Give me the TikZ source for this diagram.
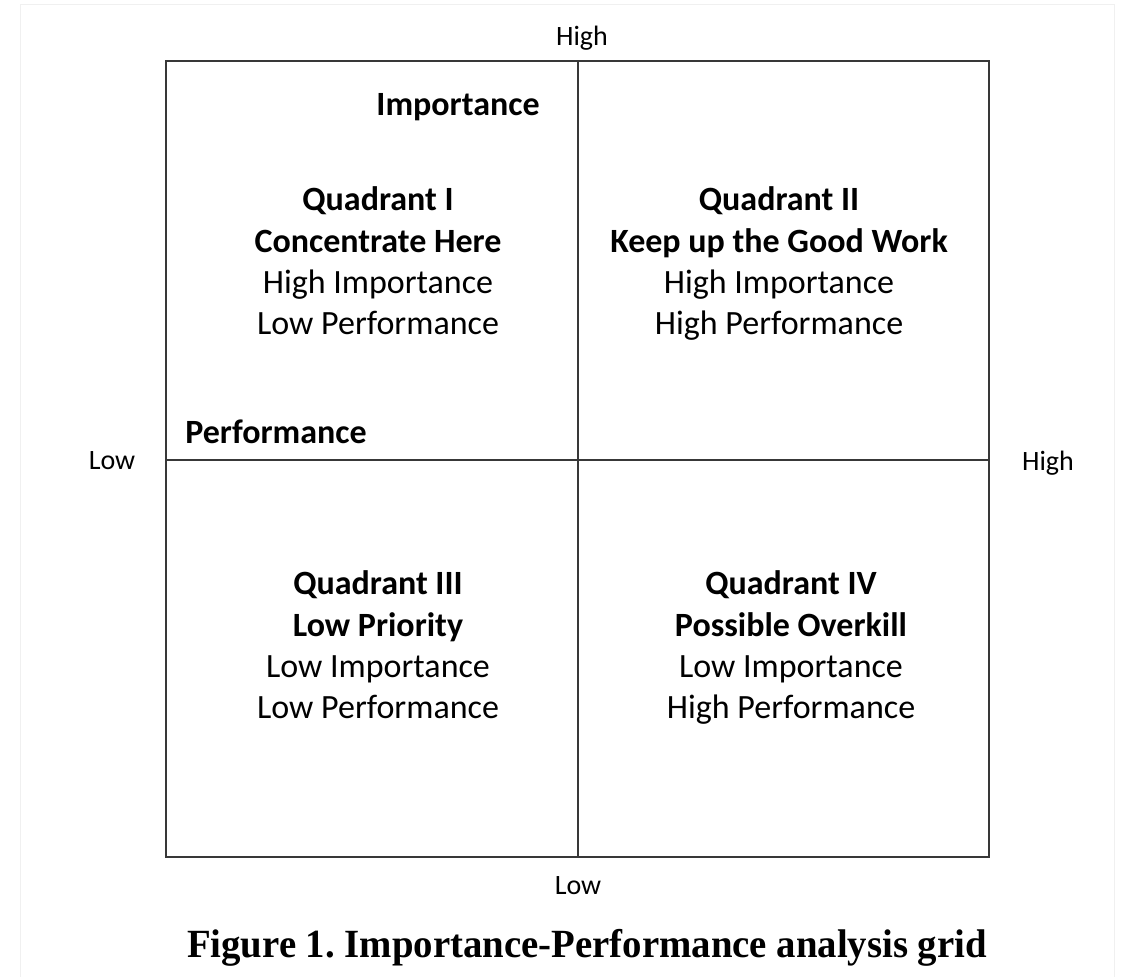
\documentclass[tikz,border=0pt]{standalone}
\usepackage{fontspec}
\setmainfont{Carlito}
\newfontfamily\capfont{Liberation Serif}
\begin{document}
\begin{tikzpicture}[x=1pt,y=-1pt,
  gridline/.style={draw=black!78,line width=1.8pt},
  quadtext/.style={anchor=base,inner sep=0pt,font=\fontsize{34}{41}\selectfont},
  quadhead/.style={quadtext,font=\fontsize{34}{41}\selectfont\bfseries},
  axislabel/.style={anchor=base,inner sep=0pt,font=\fontsize{28}{34}\selectfont}]
\useasboundingbox (0,0) rectangle (1127,977);
% faint page frame
\draw[black!6,line width=1pt] (20,995) -- (20,4) -- (1114,4) -- (1114,995);
% grid frame and dividers
\coordinate (tl) at (166,61);
\coordinate (br) at (989,857);
\coordinate (top) at (578,61);
\coordinate (bot) at (578,857);
\coordinate (lft) at (166,460);
\coordinate (rgt) at (989,460);
\draw[gridline] (tl) rectangle (br);
\draw[gridline] (top) -- (bot);
\draw[gridline] (lft) -- (rgt);
% axis labels
\node[axislabel] (ahigh) at (582,45) {High};
\node[axislabel] (alow) at (578,894) {Low};
\node[axislabel] (llow) at (112,469) {Low};
\node[axislabel] (rhigh) at (1048,470) {High};
\node[quadhead] (imp) at (458,115) {Importance};
\node[quadhead] (perf) at (276,443) {Performance};
% quadrant I
\node[quadhead] (q1a) at (378,210) {Quadrant I};
\node[quadhead] (q1b) at (378,252) {Concentrate Here};
\node[quadtext] (q1c) at (378,293) {High Importance};
\node[quadtext] (q1d) at (378,334) {Low Performance};
% quadrant II
\node[quadhead] (q2a) at (779,210) {Quadrant II};
\node[quadhead] (q2b) at (779,252) {Keep up the Good Work};
\node[quadtext] (q2c) at (779,293) {High Importance};
\node[quadtext] (q2d) at (779,334) {High Performance};
% quadrant III
\node[quadhead] (q3a) at (378,594) {Quadrant III};
\node[quadhead] (q3b) at (378,636) {Low Priority};
\node[quadtext] (q3c) at (378,677) {Low Importance};
\node[quadtext] (q3d) at (378,718) {Low Performance};
% quadrant IV
\node[quadhead] (q4a) at (791,594) {Quadrant IV};
\node[quadhead] (q4b) at (791,636) {Possible Overkill};
\node[quadtext] (q4c) at (791,677) {Low Importance};
\node[quadtext] (q4d) at (791,718) {High Performance};
% caption
\node[anchor=base,inner sep=0pt,xscale=0.97,font=\capfont\bfseries\fontsize{40}{48}\selectfont] (cap) at (587,957) {Figure 1.\ Importance-Performance analysis grid};
\end{tikzpicture}
\end{document}
